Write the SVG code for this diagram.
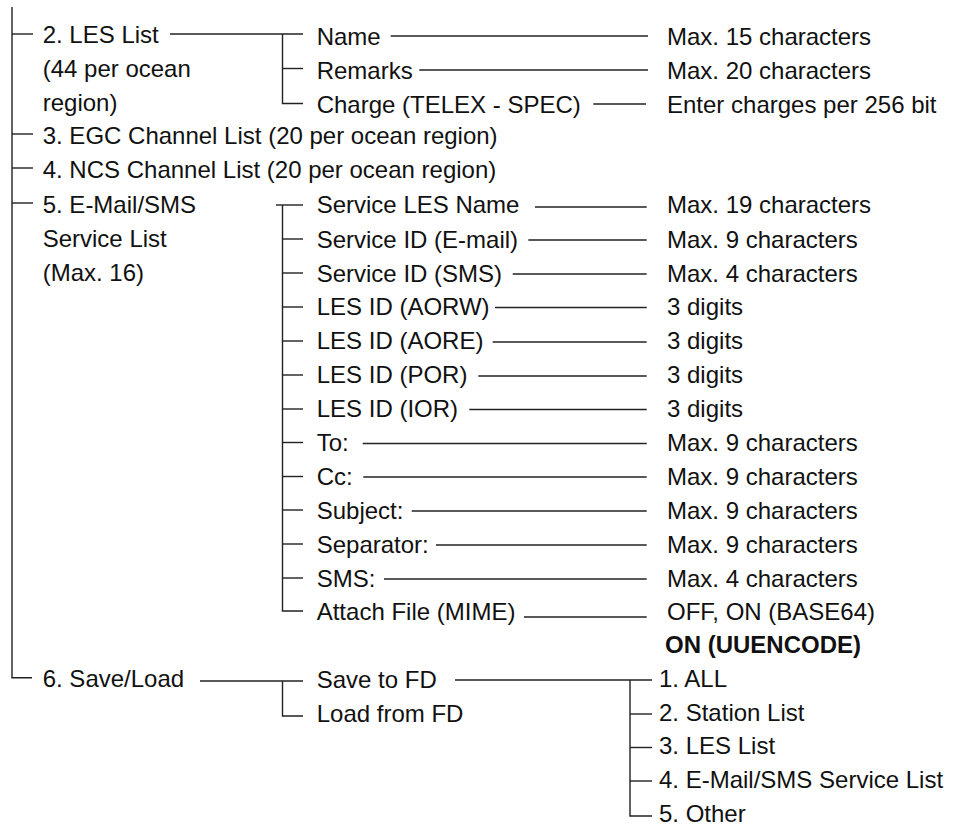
<svg xmlns="http://www.w3.org/2000/svg" width="960" height="828" viewBox="0 0 960 828">
<style>
  text { font-family: "Liberation Sans", Arial, sans-serif; font-size: 24px; fill: #111; }
  .b { font-weight: bold; }
  #connectors line, #connectors polyline { stroke: #222; stroke-width: 1.4; fill: none; }
</style>
<rect width="960" height="828" fill="#fff"/>
<g id="connectors">
  <!-- main trunk -->
  <polyline points="12,7 12,677.7 32,677.7"/>
  <line x1="12" y1="34" x2="33" y2="34"/>
  <line x1="12" y1="134" x2="33" y2="134"/>
  <line x1="12" y1="168" x2="33" y2="168"/>
  <line x1="12" y1="203" x2="33" y2="203"/>
  <!-- LES List group -->
  <line x1="170" y1="34" x2="303" y2="34"/>
  <polyline points="282.5,34 282.5,103.5 303,103.5"/>
  <line x1="282.5" y1="68.5" x2="303" y2="68.5"/>
  <line x1="390.7" y1="36" x2="648" y2="36"/>
  <line x1="419.3" y1="70" x2="648" y2="70"/>
  <line x1="593.3" y1="104" x2="646" y2="104"/>
  <!-- E-Mail/SMS group -->
  <line x1="276" y1="205" x2="303" y2="205"/>
  <polyline points="282.5,205 282.5,611 303,611"/>
  <line x1="282.5" y1="239" x2="303" y2="239"/>
  <line x1="282.5" y1="273" x2="303" y2="273"/>
  <line x1="282.5" y1="307" x2="303" y2="307"/>
  <line x1="282.5" y1="341" x2="303" y2="341"/>
  <line x1="282.5" y1="375" x2="303" y2="375"/>
  <line x1="282.5" y1="409" x2="303" y2="409"/>
  <line x1="282.5" y1="442.5" x2="303" y2="442.5"/>
  <line x1="282.5" y1="476.5" x2="303" y2="476.5"/>
  <line x1="282.5" y1="510" x2="303" y2="510"/>
  <line x1="282.5" y1="544" x2="303" y2="544"/>
  <line x1="282.5" y1="578" x2="303" y2="578"/>
  <line x1="535" y1="207" x2="646.7" y2="207"/>
  <line x1="528.3" y1="240" x2="646.7" y2="240"/>
  <line x1="512.7" y1="274" x2="646.7" y2="274"/>
  <line x1="495" y1="307.5" x2="646.7" y2="307.5"/>
  <line x1="492.7" y1="342" x2="646.7" y2="342"/>
  <line x1="478.3" y1="376" x2="646.7" y2="376"/>
  <line x1="469.3" y1="409.5" x2="646.7" y2="409.5"/>
  <line x1="362.7" y1="443.5" x2="646.7" y2="443.5"/>
  <line x1="363.3" y1="477" x2="646.7" y2="477"/>
  <line x1="411.7" y1="511" x2="646.7" y2="511"/>
  <line x1="436" y1="545" x2="646.7" y2="545"/>
  <line x1="384" y1="579" x2="646.7" y2="579"/>
  <line x1="524" y1="617" x2="646.7" y2="617"/>
  <!-- Save/Load group -->
  <line x1="200" y1="681" x2="303" y2="681"/>
  <polyline points="282.5,681 282.5,716 303,716"/>
  <line x1="455" y1="680" x2="652" y2="680"/>
  <polyline points="630,680 630,816 652,816"/>
  <line x1="630" y1="714" x2="652" y2="714"/>
  <line x1="630" y1="747.5" x2="652" y2="747.5"/>
  <line x1="630" y1="781" x2="652" y2="781"/>
</g>
<g id="les-list"><text x="42.7" y="43">2. LES List</text><text x="42.7" y="77">(44 per ocean</text><text x="42.7" y="110.5">region)</text></g>
<g id="egc"><text x="42.7" y="144">3. EGC Channel List (20 per ocean region)</text></g>
<g id="ncs"><text x="42.7" y="178">4. NCS Channel List (20 per ocean region)</text></g>
<g id="email-sms"><text x="42.7" y="213">5. E-Mail/SMS</text><text x="42.7" y="247">Service List</text><text x="42.7" y="281">(Max. 16)</text></g>
<g id="save-load"><text x="42.7" y="687">6. Save/Load</text></g>

<g id="les-name"><text x="316.7" y="45">Name</text><text x="667" y="45">Max. 15 characters</text></g>
<g id="les-remarks"><text x="316.7" y="79">Remarks</text><text x="667" y="79">Max. 20 characters</text></g>
<g id="les-charge"><text x="316.7" y="113">Charge (TELEX - SPEC)</text><text x="667" y="113">Enter charges per 256 bit</text></g>

<g id="svc-name"><text x="316.7" y="213.3">Service LES Name</text><text x="667" y="213.3">Max. 19 characters</text></g>
<g id="svc-email"><text x="316.7" y="247.5">Service ID (E-mail)</text><text x="667" y="247.5">Max. 9 characters</text></g>
<g id="svc-sms"><text x="316.7" y="281.5">Service ID (SMS)</text><text x="667" y="281.5">Max. 4 characters</text></g>
<g id="les-aorw"><text x="316.7" y="315">LES ID (AORW)</text><text x="667" y="315">3 digits</text></g>
<g id="les-aore"><text x="316.7" y="349">LES ID (AORE)</text><text x="667" y="349">3 digits</text></g>
<g id="les-por"><text x="316.7" y="383">LES ID (POR)</text><text x="667" y="383">3 digits</text></g>
<g id="les-ior"><text x="316.7" y="416.7">LES ID (IOR)</text><text x="667" y="416.7">3 digits</text></g>
<g id="to"><text x="316.7" y="451">To:</text><text x="667" y="451">Max. 9 characters</text></g>
<g id="cc"><text x="316.7" y="485">Cc:</text><text x="667" y="485">Max. 9 characters</text></g>
<g id="subject"><text x="316.7" y="519">Subject:</text><text x="667" y="519">Max. 9 characters</text></g>
<g id="separator"><text x="316.7" y="553">Separator:</text><text x="667" y="553">Max. 9 characters</text></g>
<g id="sms"><text x="316.7" y="586.7">SMS:</text><text x="667" y="586.7">Max. 4 characters</text></g>
<g id="attach"><text x="316.7" y="620">Attach File (MIME)</text><text x="667" y="620">OFF, ON (BASE64)</text><text class="b" x="665" y="653.3">ON (UUENCODE)</text></g>

<g id="save-fd"><text x="316.7" y="688">Save to FD</text></g>
<g id="load-fd"><text x="316.7" y="721.5">Load from FD</text></g>
<g id="opt-all"><text x="659" y="687">1. ALL</text></g>
<g id="opt-station"><text x="659" y="720.7">2. Station List</text></g>
<g id="opt-les"><text x="659" y="754">3. LES List</text></g>
<g id="opt-email"><text x="659" y="787.7">4. E-Mail/SMS Service List</text></g>
<g id="opt-other"><text x="659" y="821.7">5. Other</text></g>
</svg>
